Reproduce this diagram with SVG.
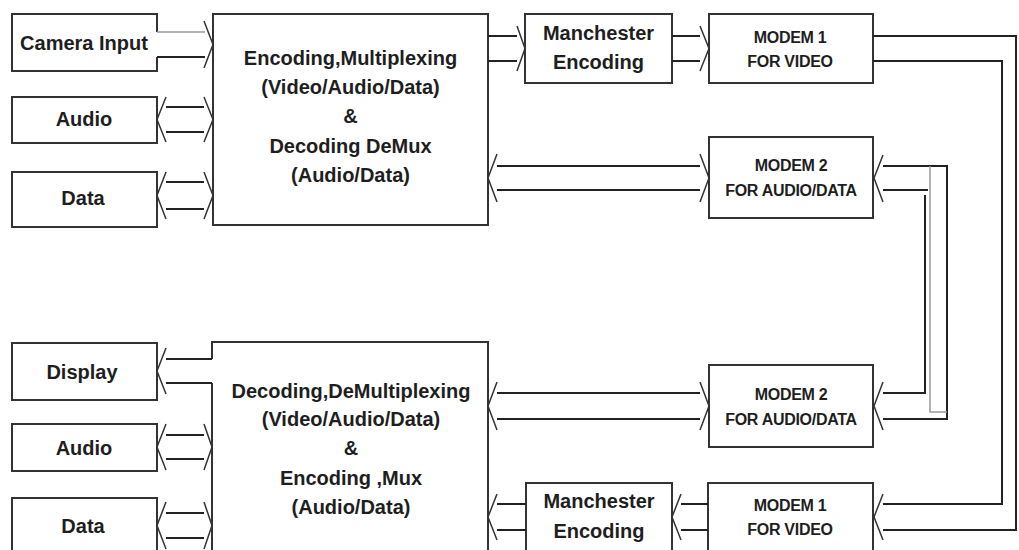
<svg xmlns="http://www.w3.org/2000/svg" width="1019" height="550" viewBox="0 0 1019 550">
<style>
.box{fill:#fff;stroke:#333;stroke-width:2}
.edge{fill:none;stroke:#333;stroke-width:2}
.ln{fill:none;stroke:#222;stroke-width:2}
.lt{fill:none;stroke:#999;stroke-width:1.5}
.hd{fill:none;stroke:#333;stroke-width:1.5;stroke-linejoin:round}
.t{font-family:"Liberation Sans",Arial,sans-serif;font-weight:bold;font-size:20px;fill:#1e1e1e;text-anchor:middle}
.m{font-family:"Liberation Sans",Arial,sans-serif;font-weight:bold;font-size:16px;fill:#1e1e1e;text-anchor:middle;letter-spacing:-0.3px}
</style>
<rect width="1019" height="550" fill="#fff"/>

<g id="camera-input">
<path class="edge" d="M157,32 V14 H12 V71 H157 V57"/>
<text class="t" x="84" y="50">Camera Input</text>
</g>
<g id="audio-top">
<rect class="box" x="12" y="97" width="145" height="46"/>
<text class="t" x="84" y="126">Audio</text>
</g>
<g id="data-top">
<rect class="box" x="12" y="172" width="145" height="55"/>
<text class="t" x="83" y="205">Data</text>
</g>
<g id="encoder">
<rect class="box" x="213" y="14" width="275" height="211"/>
<text class="t" x="350.5" y="65">Encoding,Multiplexing</text>
<text class="t" x="350.5" y="94">(Video/Audio/Data)</text>
<text class="t" x="350.5" y="123">&amp;</text>
<text class="t" x="350.5" y="153">Decoding DeMux</text>
<text class="t" x="350.5" y="182">(Audio/Data)</text>
</g>
<g id="manchester-top">
<rect class="box" x="525" y="14" width="147" height="69"/>
<text class="t" x="598.5" y="40">Manchester</text>
<text class="t" x="598.5" y="69">Encoding</text>
</g>
<g id="modem1-top">
<rect class="box" x="709" y="14" width="164" height="69"/>
<text class="m" x="790" y="43">MODEM 1</text>
<text class="m" x="790" y="67">FOR VIDEO</text>
</g>
<g id="modem2-top">
<rect class="box" x="709" y="137" width="164" height="81"/>
<text class="m" x="791" y="171">MODEM 2</text>
<text class="m" x="791" y="196">FOR AUDIO/DATA</text>
</g>

<g id="display">
<rect class="box" x="12" y="343" width="145" height="57"/>
<text class="t" x="82" y="379">Display</text>
</g>
<g id="audio-bottom">
<rect class="box" x="12" y="424" width="145" height="47"/>
<text class="t" x="84" y="455">Audio</text>
</g>
<g id="data-bottom">
<rect class="box" x="12" y="498" width="145" height="70"/>
<text class="t" x="83" y="533">Data</text>
</g>
<g id="decoder">
<path class="edge" d="M212,359 V342 H488 V560 M212,383 V560"/>
<text class="t" x="351" y="398">Decoding,DeMultiplexing</text>
<text class="t" x="351" y="426">(Video/Audio/Data)</text>
<text class="t" x="351" y="455">&amp;</text>
<text class="t" x="351" y="485">Encoding ,Mux</text>
<text class="t" x="351" y="514">(Audio/Data)</text>
</g>
<g id="manchester-bottom">
<rect class="box" x="526" y="483" width="146" height="80"/>
<text class="t" x="599" y="508">Manchester</text>
<text class="t" x="599" y="538">Encoding</text>
</g>
<g id="modem2-bottom">
<rect class="box" x="709" y="365" width="164" height="82"/>
<text class="m" x="791" y="400">MODEM 2</text>
<text class="m" x="791" y="425">FOR AUDIO/DATA</text>
</g>
<g id="modem1-bottom">
<rect class="box" x="708" y="483" width="165" height="80"/>
<text class="m" x="790" y="511">MODEM 1</text>
<text class="m" x="790" y="535">FOR VIDEO</text>
</g>

<g id="connectors">
<!-- camera -> encoder -->
<path class="lt" d="M157,32 H205"/>
<path class="ln" d="M157,57 H205"/>
<path class="hd" d="M204,21 L213,44.5 L204,68"/>
<!-- audio top -->
<path class="ln" d="M166,107 H204 M166,132 H204"/>
<path class="hd" d="M166,97 L157,119.5 L166,142 M204,97 L213,119.5 L204,142"/>
<!-- data top -->
<path class="ln" d="M166,182 H204 M166,209 H204"/>
<path class="hd" d="M166,172 L157,195.5 L166,219 M204,172 L213,195.5 L204,219"/>
<!-- encoder -> manchester top -->
<path class="ln" d="M488,36 H517 M488,61 H517"/>
<path class="hd" d="M517,26 L525,48.5 L517,71"/>
<!-- manchester -> modem1 top -->
<path class="ln" d="M672,36 H700 M672,61 H700"/>
<path class="hd" d="M700,26 L709,48.5 L700,71"/>
<!-- encoder <-> modem2 top -->
<path class="ln" d="M497,166 H700 M497,190 H700"/>
<path class="hd" d="M497,154 L488,178 L497,202 M700,154 L709,178 L700,202"/>
<!-- modem2 top <-> modem2 bottom -->
<path class="hd" d="M883,155 L874,178 L883,202"/>
<path class="ln" d="M883,166 H947 V419 H883"/>
<path class="ln" d="M883,190 H928"/>
<path class="ln" d="M925,195 V393 H883"/>
<path class="lt" d="M930,166 V412 H947"/>
<path class="hd" d="M883,382 L874,406 L883,430"/>
<!-- decoder <-> modem2 bottom -->
<path class="ln" d="M497,393 H700 M497,419 H700"/>
<path class="hd" d="M497,382 L488,406 L497,430 M700,382 L709,406 L700,430"/>
<!-- decoder -> display -->
<path class="ln" d="M166,359 H212 M166,383 H212"/>
<path class="hd" d="M166,348 L157,371 L166,394"/>
<!-- audio bottom -->
<path class="ln" d="M166,435 H204 M166,459 H204"/>
<path class="hd" d="M166,424 L157,447 L166,470 M204,424 L212,447 L204,470"/>
<!-- data bottom -->
<path class="ln" d="M166,513 H204 M166,538 H204"/>
<path class="hd" d="M166,502 L157,525.5 L166,549 M204,502 L212,525.5 L204,549"/>
<!-- manchester bottom -> decoder -->
<path class="ln" d="M497,504 H526 M497,530 H526"/>
<path class="hd" d="M497,494 L488,517 L497,540"/>
<!-- modem1 bottom -> manchester bottom -->
<path class="ln" d="M681,504 H708 M681,530 H708"/>
<path class="hd" d="M681,494 L672,517 L681,540"/>
<!-- modem1 top -> modem1 bottom -->
<path class="ln" d="M873,36 H1016 V530 H883"/>
<path class="ln" d="M873,61 H1002 V504 H883"/>
<path class="hd" d="M883,494 L874,517 L883,540"/>
</g>
</svg>
